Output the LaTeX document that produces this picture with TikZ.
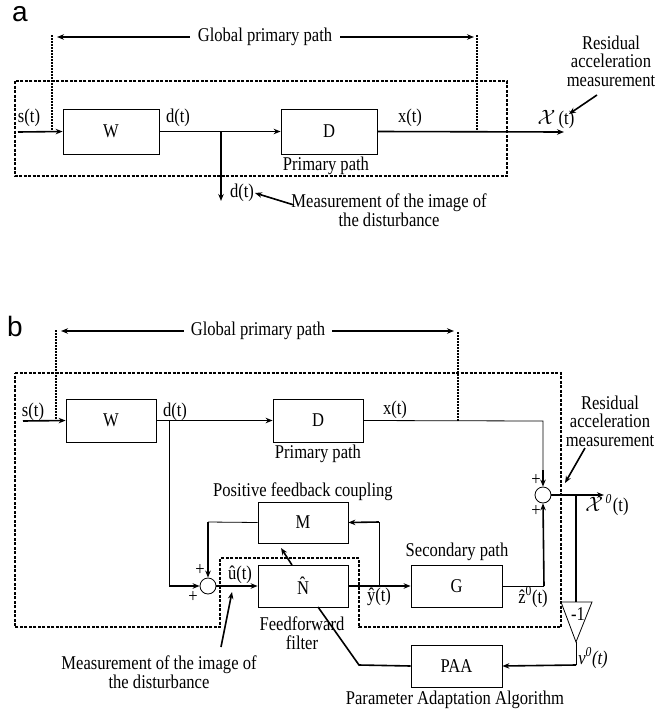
\documentclass[tikz,border=0pt]{standalone}
\usepackage{fontspec}
\setmainfont[FakeStretch=0.85]{Liberation Serif}
\newfontfamily\labfont{Liberation Sans}
\usetikzlibrary{arrows.meta}
\begin{document}
\begin{tikzpicture}[x=1pt,y=-1pt,
  txt/.style={inner sep=0pt, font=\fontsize{19.5}{18.5}\selectfont, align=center},
  blk/.style={draw, line width=0.8pt, inner sep=0pt, font=\fontsize{19.5}{18.5}\selectfont},
  sumnode/.style={circle, draw, line width=0.8pt, minimum size=16pt, inner sep=0pt},
  sig/.style={line width=1.6pt},
  thinsig/.style={line width=0.8pt},
  arr/.style={-{Stealth[length=7pt,width=5.5pt]}},
  dsh/.style={dash pattern=on 3pt off 1.5pt, line width=1.3pt},
  dshthin/.style={dash pattern=on 2pt off 1pt, line width=1.1pt},
  panel/.style={inner sep=0pt, font=\labfont\fontsize{28}{28}\selectfont}
]
\useasboundingbox (0,0) rectangle (657,713);

% ================= panel a =================
\node[panel] (la) at (20,14) {a};
\node[blk, minimum width=96pt, minimum height=45pt] (Wa) at (111,131.5) {W};
\node[blk, minimum width=96pt, minimum height=45pt] (Da) at (329,131.5) {D};
\coordinate (sa) at (18,132);
\coordinate (ba) at (221,132);
\coordinate (ba2) at (221,201);
\coordinate (outa) at (564,132);
\draw[sig,arr] (sa) -- (Wa.west);
\draw[sig,arr] (Wa.east) -- (Da.west);
\draw[sig,arr] (ba) -- (ba2);
\draw[sig,arr] (Da.east) -- (outa);
\draw[dsh] (15,81) rectangle (507,176);
% global primary path
\coordinate (gaL) at (52,35);
\coordinate (gaLb) at (52,132);
\coordinate (gaR) at (477,35);
\coordinate (gaRb) at (477,132);
\draw[dshthin] (gaL) -- (gaLb);
\draw[dshthin] (gaR) -- (gaRb);
\node[txt, inner xsep=8pt] (gpa) at (265,37) {Global primary path};
\coordinate (gaLt) at (57,37);
\coordinate (gaRt) at (474,37);
\draw[sig,arr] (gpa.west) -- (gaLt);
\draw[sig,arr] (gpa.east) -- (gaRt);
% labels
\node[txt] (sta) at (29,118) {s(t)};
\node[txt] (dta) at (178,118) {d(t)};
\node[txt] (xta) at (410,118) {x(t)};
\node[txt] (ppa) at (326,166) {Primary path};
\node[txt] (chia) at (556,119) {$\mathcal{X}$\,(t)};
\node[txt] (resa) at (611,61) {Residual\\acceleration\\measurement};
\coordinate (ra1) at (597,95);
\coordinate (ra2) at (569,114);
\draw[sig,arr] (ra1) -- (ra2);
\node[txt] (dtb) at (242,193) {d(t)};
\node[txt] (mea) at (389,210) {Measurement of the image of\\the disturbance};
\coordinate (ma1) at (294,205);
\coordinate (ma2) at (255,193);
\draw[sig,arr] (ma1) -- (ma2);

% ================= panel b =================
\node[panel] (lb) at (15,326) {b};
\node[blk, minimum width=90pt, minimum height=43pt] (Wb) at (111,420.5) {W};
\node[blk, minimum width=90pt, minimum height=43pt] (Db) at (318,420.5) {D};
\node[blk, minimum width=90pt, minimum height=41pt] (Mb) at (303,522.5) {M};
\node[blk, minimum width=90pt, minimum height=42pt] (Nb) at (303,586) {\^{N}};
\node[blk, minimum width=91pt, minimum height=42pt] (Gb) at (456.5,586) {G};
\node[blk, minimum width=91pt, minimum height=42pt] (Pb) at (456.5,666) {PAA};
\node[sumnode] (s1) at (543,495) {};
\node[sumnode] (s2) at (208,586) {};

\coordinate (sb) at (23,421);
\draw[sig,arr] (sb) -- (Wb.west);
\draw[sig,arr] (Wb.east) -- (Db.west);
% d(t) branch to summer 2
\coordinate (bb) at (169,421);
\coordinate (bb2) at (169,586);
\draw[thinsig] (bb) -- (bb2);
\draw[sig,arr] (bb2) -- (s2.west);
% x(t) to summer 1
\coordinate (c1) at (543,421);
\coordinate (c1b) at (543,470);
\draw[thinsig] (Db.east) -- (c1) -- (c1b);
\draw[sig,arr] (c1b) -- (s1.north);
% output
\coordinate (outb) at (604,495);
\draw[sig,arr] (s1.east) -- (outb);
% branch to gain -1
\coordinate (tb) at (576,495);
\coordinate (tt) at (576,602);
\coordinate (tl) at (561,602);
\coordinate (tr) at (592,602);
\coordinate (ta) at (576,642);
\draw[sig] (tb) -- (tt);
\draw[line width=0.8pt] (tl) -- (tr) -- (ta) -- cycle;
\node[txt] (gain) at (578,614) {-1};
\coordinate (tp) at (576,665);
\draw[thinsig] (ta) -- (tp);
\draw[sig,arr] (tp) -- (Pb.east);
% PAA to N
\coordinate (pk) at (359,665);
\coordinate (nb) at (318,607);
\draw[sig] (Pb.west) -- (pk) -- (nb);
% M feedback to summer 2
\coordinate (mk) at (208,522);
\draw[thinsig] (Mb.west) -- (mk);
\draw[sig,arr] (mk) -- (s2.north);
\draw[sig,arr] (s2.east) -- (Nb.west);
\draw[sig,arr] (Nb.east) -- (Gb.west);
% y feedback to M
\coordinate (yb) at (379,586);
\coordinate (yk) at (379,522);
\draw[thinsig] (yb) -- (yk);
\draw[sig,arr] (yk) -- (Mb.east);
% G to summer 1
\coordinate (gk) at (544,586);
\draw[thinsig] (Gb.east) -- (gk);
\draw[sig,arr] (gk) -- (s1.south);
% adaptation arrow N->M
\coordinate (na1) at (292,565);
\coordinate (na2) at (281,548);
\draw[sig,arr] (na1) -- (na2);
% dashed outline
\draw[dsh] (15,373) -- (561,373) -- (561,627) -- (359,627) -- (359,558) -- (220,558) -- (220,627) -- (15,627) -- cycle;
% global primary path
\coordinate (gbL) at (56,330);
\coordinate (gbLb) at (56,421);
\coordinate (gbR) at (458,332);
\coordinate (gbRb) at (458,421);
\draw[dshthin] (gbL) -- (gbLb);
\draw[dshthin] (gbR) -- (gbRb);
\node[txt, inner xsep=7pt] (gpb) at (258,331) {Global primary path};
\coordinate (gbLt) at (61,331);
\coordinate (gbRt) at (454,331);
\draw[sig,arr] (gpb.west) -- (gbLt);
\draw[sig,arr] (gpb.east) -- (gbRt);
% labels
\node[txt] (stb) at (33,412) {s(t)};
\node[txt] (dtb2) at (175,412) {d(t)};
\node[txt] (xtb) at (395,410) {x(t)};
\node[txt] (ppb) at (318,454) {Primary path};
\node[txt] (pfc) at (303,492) {Positive feedback coupling};
\node[txt] (p1) at (536,480) {+};
\node[txt] (p2) at (536,511) {+};
\node[txt] (p3) at (200,570) {+};
\node[txt] (p4) at (193,597) {+};
\node[txt] (chib) at (607,505) {$\mathcal{X}^{\,\mathit{0}}$(t)};
\node[txt] (resb) at (610,421) {Residual\\acceleration\\measurement};
\coordinate (rb1) at (585,448);
\coordinate (rb2) at (565,483);
\draw[sig,arr] (rb1) -- (rb2);
\node[txt] (ut) at (240,575) {\^{u}(t)};
\node[txt] (yt) at (379,597) {\^{y}(t)};
\node[txt] (sp) at (457,552) {Secondary path};
\node[txt] (zt) at (533,597) {\^{z}\textsuperscript{0}(t)};
\node[txt] (vt) at (593,658) {\textit{v\textsuperscript{0}(t)}};
\node[txt] (ff) at (302,633) {Feedforward\\filter};
\node[txt] (meb) at (159,672) {Measurement of the image of\\the disturbance};
\coordinate (mb1) at (221,647);
\coordinate (mb2) at (232,592);
\draw[sig,arr] (mb1) -- (mb2);
\node[txt] (paa) at (455,700) {Parameter Adaptation Algorithm};
\end{tikzpicture}
\end{document}
